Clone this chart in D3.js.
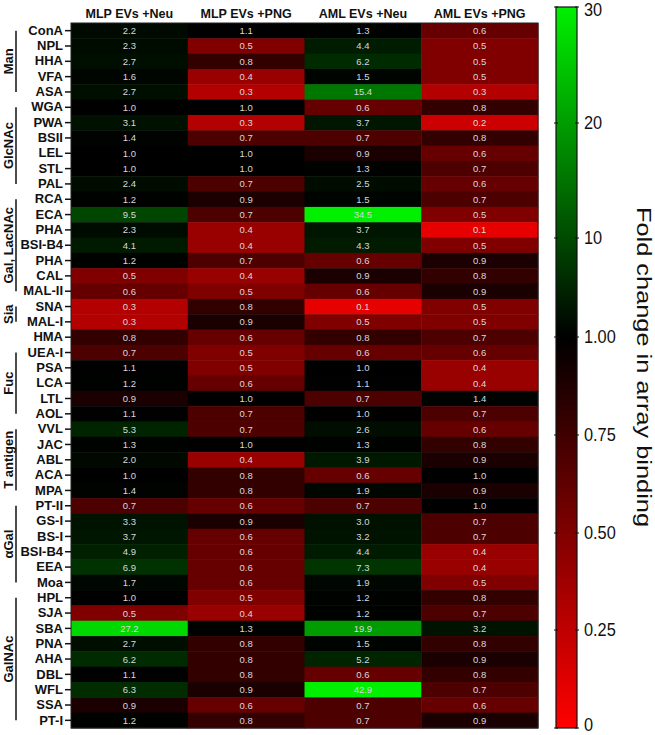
<!DOCTYPE html>
<html><head><meta charset="utf-8">
<script src="https://cdn.jsdelivr.net/npm/d3@7"></script>
<style>body{margin:0;background:#fff}svg{display:block}svg text{font-family:"Liberation Sans",Arial,sans-serif}</style>
</head><body>
<svg id="c" width="655" height="735"></svg>
<script>
const columns = ["MLP EVs +Neu","MLP EVs +PNG","AML EVs +Neu","AML EVs +PNG"];
const lectins = ["ConA","NPL","HHA","VFA","ASA","WGA","PWA","BSII","LEL","STL","PAL","RCA","ECA","PHA","BSI-B4","PHA","CAL","MAL-II","SNA","MAL-I","HMA","UEA-I","PSA","LCA","LTL","AOL","VVL","JAC","ABL","ACA","MPA","PT-II","GS-I","BS-I","BSI-B4","EEA","Moa","HPL","SJA","SBA","PNA","AHA","DBL","WFL","SSA","PT-I"];
const mlpNeu = [2.2,2.3,2.7,1.6,2.7,1.0,3.1,1.4,1.0,1.0,2.4,1.2,9.5,2.3,4.1,1.2,0.5,0.6,0.3,0.3,0.8,0.7,1.1,1.2,0.9,1.1,5.3,1.3,2.0,1.0,1.4,0.7,3.3,3.7,4.9,6.9,1.7,1.0,0.5,27.2,2.7,6.2,1.1,6.3,0.9,1.2];
const mlpPng = [1.1,0.5,0.8,0.4,0.3,1.0,0.3,0.7,1.0,1.0,0.7,0.9,0.7,0.4,0.4,0.7,0.4,0.5,0.8,0.9,0.6,0.5,0.5,0.6,1.0,0.7,0.7,1.0,0.4,0.8,0.8,0.6,0.9,0.6,0.6,0.6,0.6,0.5,0.4,1.3,0.8,0.8,0.8,0.9,0.6,0.8];
const amlNeu = [1.3,4.4,6.2,1.5,15.4,0.6,3.7,0.7,0.9,1.3,2.5,1.5,34.5,3.7,4.3,0.6,0.9,0.6,0.1,0.5,0.8,0.6,1.0,1.1,0.7,1.0,2.6,1.3,3.9,0.6,1.9,0.7,3.0,3.2,4.4,7.3,1.9,1.2,1.2,19.9,1.5,5.2,0.6,42.9,0.7,0.7];
const amlPng = [0.6,0.5,0.5,0.5,0.3,0.8,0.2,0.8,0.6,0.7,0.6,0.7,0.5,0.1,0.5,0.9,0.8,0.9,0.5,0.5,0.7,0.6,0.4,0.4,1.4,0.7,0.6,0.8,0.9,1.0,0.9,1.0,0.7,0.7,0.4,0.4,0.5,0.8,0.7,3.2,0.8,0.9,0.8,0.7,0.6,0.9];
const groupNames = ["Man","GlcNAc","Gal, LacNAc","Sia","Fuc","T antigen","αGal","GalNAc"];
const groupFirst = [0,5,11,18,21,26,31,37];
const groupLast  = [4,10,17,19,25,30,36,45];
const barTickValues = [0,0.25,0.5,0.75,1,10,20,30];
const barTickLabels = ["0","0.25","0.50","0.75","1.00","10","20","30"];
const barTitle = "Fold change in array binding";

(function(){
const FONT = "'Liberation Sans', Arial, sans-serif";
const series = [mlpNeu, mlpPng, amlNeu, amlPng];
const svg = d3.select("#c");
const L = 71, R = 538, T = 23, B = 728;
const x = d3.scaleBand().domain(columns).range([L, R]);
const y = d3.scaleBand().domain(d3.range(lectins.length)).range([T, B]);
const color = d3.scaleLinear().domain([0,1,30]).range(["#ff0000","#000000","#00f000"]).clamp(true);

const cells = [];
series.forEach((s, ci) => s.forEach((v, ri) => cells.push({c: columns[ci], r: ri, v})));

svg.append("g").selectAll("rect").data(cells).join("rect")
  .attr("x", d => x(d.c)).attr("y", d => y(d.r))
  .attr("width", x.bandwidth() + 0.5).attr("height", y.bandwidth() + 0.5)
  .attr("fill", d => color(d.v));

svg.append("g").selectAll("text").data(cells).join("text")
  .attr("x", d => x(d.c) + x.bandwidth()/2).attr("y", d => y(d.r) + y.bandwidth()/2)
  .attr("text-anchor", "middle").attr("dominant-baseline", "central")
  .attr("font-family", FONT).attr("font-size", "9.5px").attr("fill", "#d8d8d8")
  .text(d => d.v.toFixed(1));

svg.append("rect").attr("x", L).attr("y", T).attr("width", R-L).attr("height", B-T)
  .attr("fill", "none").attr("stroke", "#222").attr("stroke-width", 1);

svg.append("g").selectAll("text").data(columns).join("text")
  .attr("x", d => x(d) + x.bandwidth()/2).attr("y", 18)
  .attr("text-anchor", "middle").attr("font-family", FONT).attr("font-size", "12.5px").attr("font-weight", "bold").attr("fill", "#111")
  .text(d => d);

const ay = svg.append("g").attr("transform", `translate(${L},0)`)
  .call(d3.axisLeft(y).tickFormat(i => lectins[i]).tickSize(6).tickPadding(2));
ay.attr("font-family", FONT);
ay.select(".domain").remove();
ay.selectAll(".tick line").attr("stroke", "#111").attr("stroke-width", 1.5);
ay.selectAll(".tick text").attr("font-size", "13px").attr("font-weight", "bold").attr("fill", "#111");

const gg = svg.append("g");
groupNames.forEach((g, i) => {
  const y0 = y(groupFirst[i]) + y.bandwidth()/2;
  const y1 = y(groupLast[i]) + y.bandwidth()/2;
  gg.append("line").attr("x1", 16).attr("x2", 16).attr("y1", y0).attr("y2", y1)
    .attr("stroke", "#111").attr("stroke-width", 1.5);
  gg.append("text").attr("transform", `translate(13,${(y0+y1)/2}) rotate(-90)`)
    .attr("text-anchor", "middle").attr("font-family", FONT).attr("font-size", "13px").attr("font-weight", "bold").attr("fill", "#111")
    .text(g);
});

const cbX = 556, cbW = 21;
const cbY = d3.scaleLinear().domain(barTickValues).range([728, 630, 533, 435, 337, 238, 123, 7]);
const defs = svg.append("defs");
const grad = defs.append("linearGradient").attr("id", "cbg").attr("x1", 0).attr("x2", 0).attr("y1", 1).attr("y2", 0);
const cbTop = cbY(30), cbBot = cbY(0);
const stopVals = [0,0.25,0.5,0.75,1,5,10,15,20,25,30];
stopVals.forEach(v => grad.append("stop")
  .attr("offset", (cbBot - cbY(v)) / (cbBot - cbTop)).attr("stop-color", color(v)));
svg.append("rect").attr("x", cbX).attr("y", cbTop).attr("width", cbW).attr("height", cbBot - cbTop)
  .attr("fill", "url(#cbg)").attr("stroke", "#111").attr("stroke-width", 1.2);
const tk = svg.append("g");
barTickValues.forEach((v, i) => {
  const yy = cbY(v);
  const ly = Math.min(Math.max(yy, 10), 725);
  tk.append("line").attr("x1", cbX-2).attr("x2", cbX+2).attr("y1", yy).attr("y2", yy).attr("stroke", "#111");
  tk.append("line").attr("x1", cbX+cbW-2).attr("x2", cbX+cbW+2).attr("y1", yy).attr("y2", yy).attr("stroke", "#111");
  tk.append("text").attr("transform", `translate(584,${ly}) scale(0.86,1)`)
    .attr("dominant-baseline", "central").attr("font-family", FONT).attr("font-size", "19px").attr("fill", "#111")
    .text(barTickLabels[i]);
});
svg.append("text").attr("transform", "translate(637,367) rotate(90)")
  .attr("text-anchor", "middle").attr("font-family", FONT).attr("font-size", "21px").attr("fill", "#111")
  .attr("textLength", 320).attr("lengthAdjust", "spacingAndGlyphs")
  .text(barTitle);
})();
</script>
</body></html>
